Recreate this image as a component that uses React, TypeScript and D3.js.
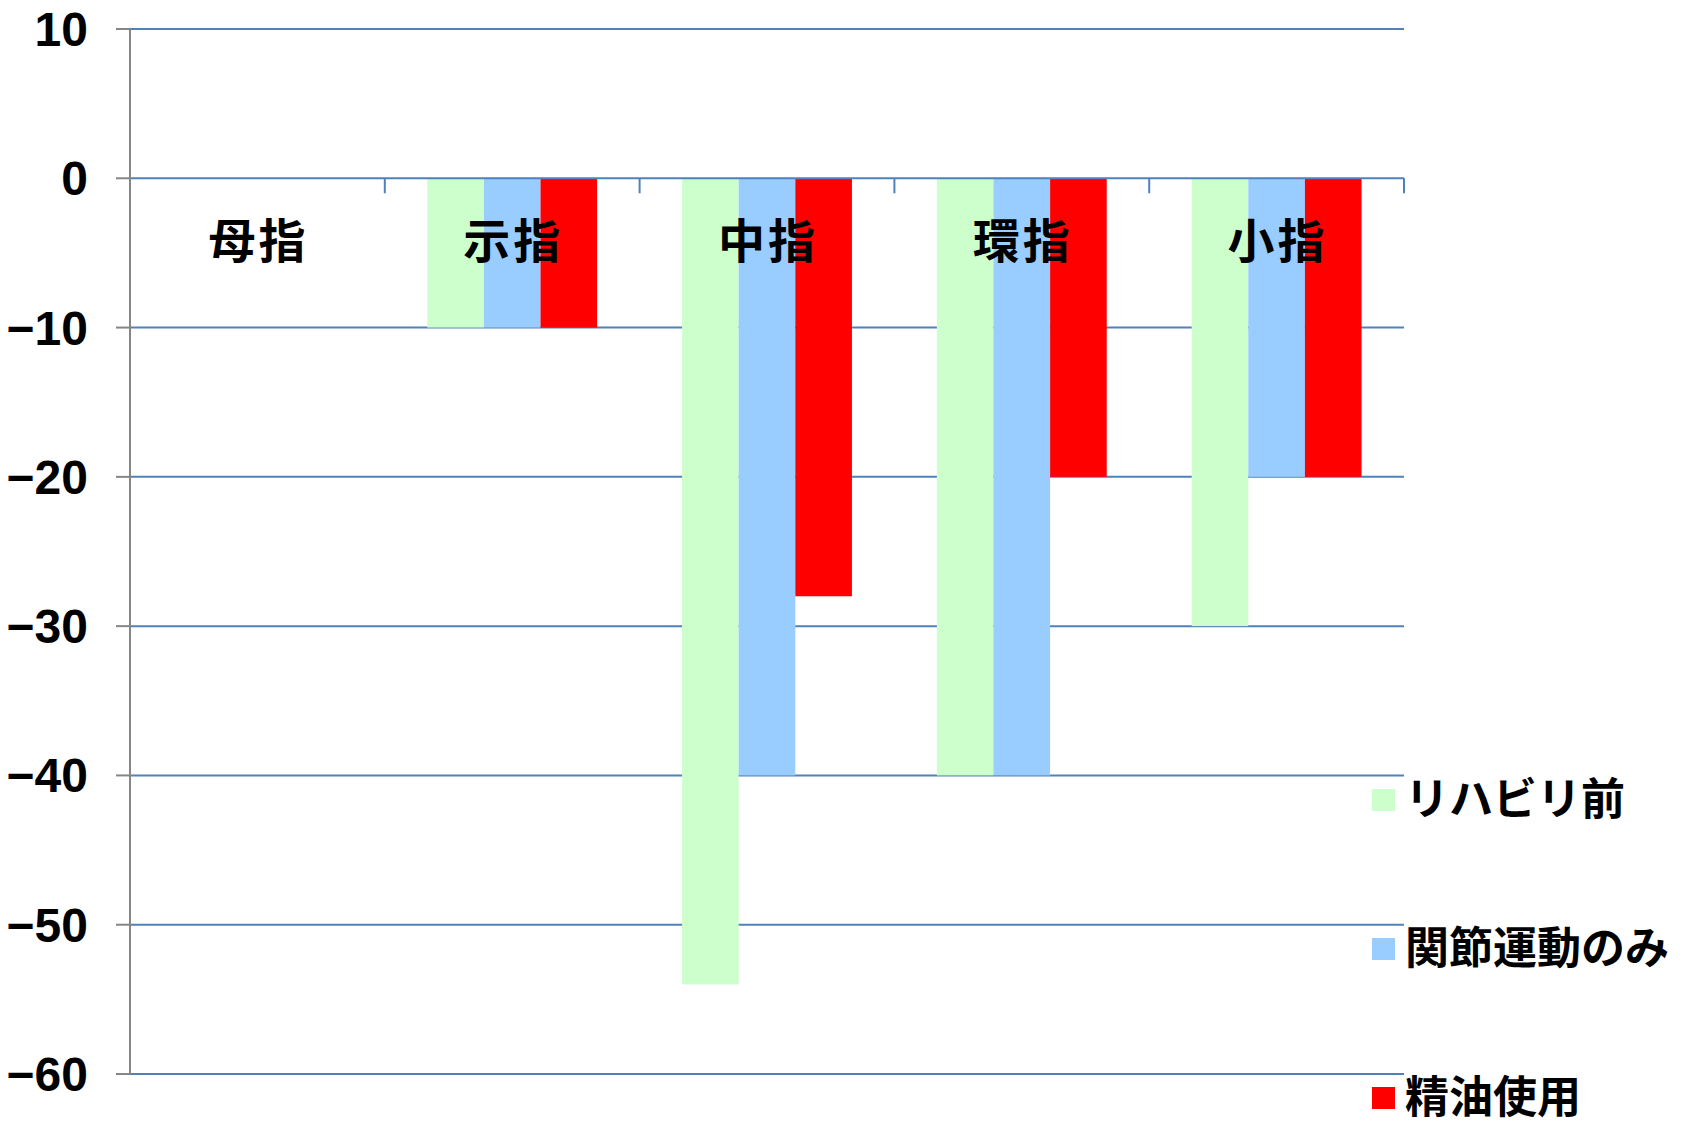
import React from "react";
import * as d3 from "d3";

const categories = ["母指", "示指", "中指", "環指", "小指"];
const seriesNames = ["リハビリ前", "関節運動のみ", "精油使用"];
const seriesColors = ["#ccffcc", "#99ccff", "#ff0000"];
const rehabBefore = [0, -10, -54, -40, -30];
const jointOnly = [0, -10, -40, -40, -20];
const oilUse = [0, -10, -28, -20, -20];
const yTicks = [10, 0, -10, -20, -30, -40, -50, -60];

const W = 1699;
const H = 1126;
const FONT = "'Noto Sans CJK JP', 'Noto Sans', sans-serif";
const NUMFONT = "'Liberation Sans', Arial, sans-serif";

export default function App() {
  const series = [rehabBefore, jointOnly, oilUse];
  const x = d3.scaleBand<string>().domain(categories).range([130, 1404]).paddingInner(0).paddingOuter(0);
  const inner = d3
    .scaleBand<number>()
    .domain([0, 1, 2])
    .range([0, x.bandwidth()])
    .paddingInner(0)
    .paddingOuter(0.75);
  const y = d3.scaleLinear().domain([10, -60]).range([29, 1074]);
  const grid = "#4f81bd";
  const axisGray = "#868686";
  const boundaries = [...categories.map((c) => x(c) as number), 1404];

  return (
    <svg
      width={W}
      height={H}
      style={{ position: "absolute", left: 0, top: 0, background: "#fff" }}
      fontFamily={FONT}
    >
      {yTicks.filter((t) => t !== 0).map((t) => (
        <line key={"g" + t} x1={130} x2={1404} y1={y(t)} y2={y(t)} stroke={grid} strokeWidth={2} />
      ))}
      {series.map((vals, si) =>
        categories.map((c, ci) => {
          const v = vals[ci];
          const x0 = (x(c) as number) + (inner(si) as number);
          const y0 = y(Math.max(0, v));
          const y1 = y(Math.min(0, v));
          return (
            <rect
              key={si + "-" + ci}
              x={x0}
              y={y0}
              width={inner.bandwidth()}
              height={y1 - y0}
              fill={seriesColors[si]}
            />
          );
        })
      )}
      <line x1={130} x2={1404} y1={y(0)} y2={y(0)} stroke={grid} strokeWidth={2} />
      {boundaries.map((bx, i) => (
        <line key={"xt" + i} x1={bx} x2={bx} y1={y(0)} y2={y(0) + 15} stroke={grid} strokeWidth={2} />
      ))}
      <line x1={130} x2={130} y1={y(10)} y2={y(-60)} stroke={axisGray} strokeWidth={2} />
      {yTicks.map((t) => (
        <g key={"yt" + t}>
          <line x1={116} x2={130} y1={y(t)} y2={y(t)} stroke={axisGray} strokeWidth={2} />
          <text
            x={88}
            y={y(t) + 17}
            textAnchor="end"
            fontFamily={NUMFONT}
            fontSize={48}
            fontWeight="bold"
            fill="#000"
          >
            {t < 0 ? "\u2212" + Math.abs(t) : String(t)}
          </text>
        </g>
      ))}
      {categories.map((c) => (
        <text
          key={"c" + c}
          x={(x(c) as number) + x.bandwidth() / 2 + 1}
          y={258}
          textAnchor="middle"
          fontSize={47}
          letterSpacing={3}
          fontWeight="bold"
          fill="#000"
        >
          {c}
        </text>
      ))}
      {seriesNames.map((n, i) => {
        const cy = 800 + i * 149;
        return (
          <g key={"l" + i}>
            <rect x={1372} y={cy - 11} width={23} height={22} fill={seriesColors[i]} />
            <text x={1405} y={cy + 15} fontSize={44} fontWeight="bold" fill="#000">
              {n}
            </text>
          </g>
        );
      })}
    </svg>
  );
}
